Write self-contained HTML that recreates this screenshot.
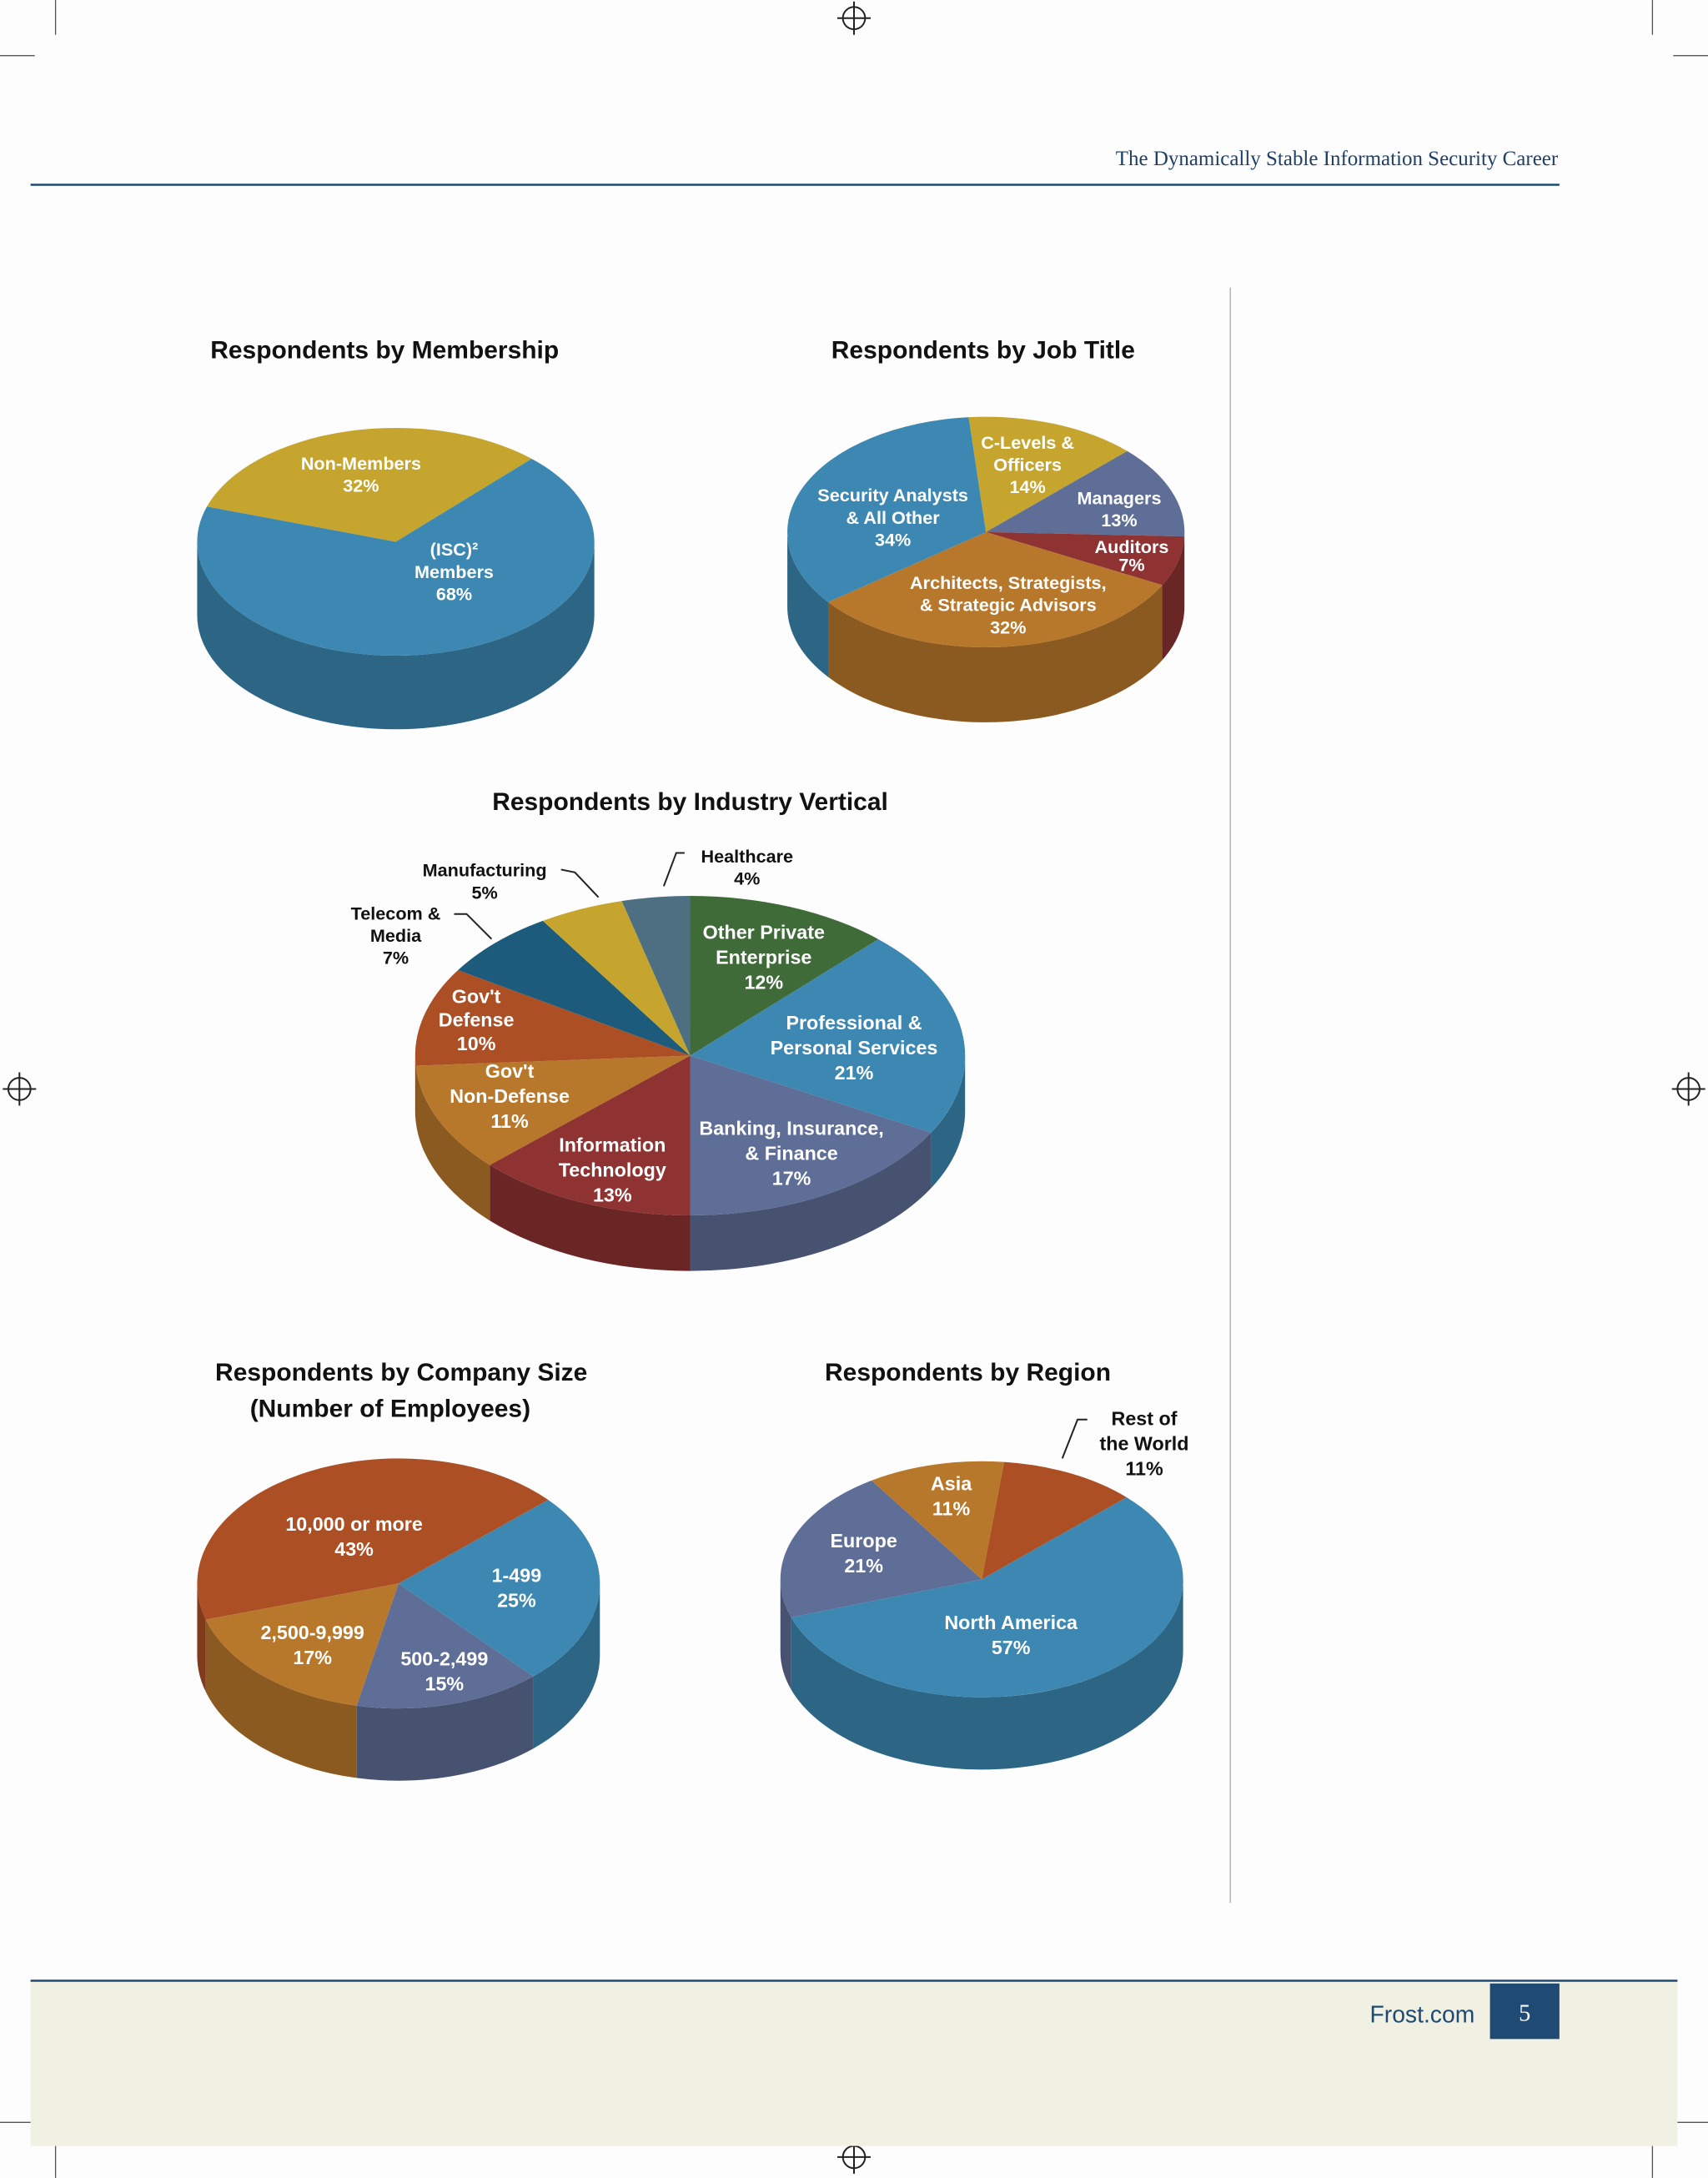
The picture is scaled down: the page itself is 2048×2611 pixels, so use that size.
<!DOCTYPE html>
<html><head><meta charset="utf-8">
<style>
html,body{margin:0;padding:0;background:#fdfdfd;}
svg{display:block;}
.t{font-family:"Liberation Sans",sans-serif;font-weight:bold;}
</style></head>
<body>
<svg id="s" width="2048" height="2611" viewBox="0 0 1230 1568" xmlns="http://www.w3.org/2000/svg">
<rect x="0" y="0" width="1230" height="1568" fill="#fdfdfd"/>
<g stroke="#555" stroke-width="0.8">
<line x1="40" y1="0" x2="40" y2="25"/><line x1="0" y1="40" x2="25" y2="40"/>
<line x1="1190" y1="0" x2="1190" y2="25"/><line x1="1205" y1="40" x2="1230" y2="40"/>
<line x1="40" y1="1543" x2="40" y2="1568"/><line x1="0" y1="1528" x2="25" y2="1528"/>
<line x1="1190" y1="1543" x2="1190" y2="1568"/><line x1="1205" y1="1528" x2="1230" y2="1528"/>
</g>
<g fill="none" stroke="#222" stroke-width="1.2">
<circle cx="615" cy="13" r="8"/><line x1="603" y1="13" x2="627" y2="13"/><line x1="615" y1="1" x2="615" y2="25"/>
<circle cx="615" cy="1553" r="8"/><line x1="603" y1="1553" x2="627" y2="1553"/><line x1="615" y1="1541" x2="615" y2="1565"/>
<circle cx="14" cy="784" r="8"/><line x1="2" y1="784" x2="26" y2="784"/><line x1="14" y1="772" x2="14" y2="796"/>
<circle cx="1216" cy="784" r="8"/><line x1="1204" y1="784" x2="1228" y2="784"/><line x1="1216" y1="772" x2="1216" y2="796"/>
</g>
<text x="1122" y="119" text-anchor="end" font-family="Liberation Serif,serif" font-size="15" fill="#1e3f66">The Dynamically Stable Information Security Career</text>
<line x1="22" y1="133" x2="1123" y2="133" stroke="#1e4a73" stroke-width="1.5"/>
<line x1="886" y1="207" x2="886" y2="1370" stroke="#bbb" stroke-width="1"/>
<rect x="22" y="1426" width="1186" height="119" fill="#f0f0e3"/>
<line x1="22" y1="1426" x2="1208" y2="1426" stroke="#1e4a73" stroke-width="1.5"/>
<text x="1062" y="1456" text-anchor="end" font-family="Liberation Sans,sans-serif" font-size="17" fill="#1e4a73">Frost.com</text>
<rect x="1073" y="1428" width="50" height="40" fill="#1e4a73"/>
<text x="1098" y="1455" text-anchor="middle" font-family="Liberation Serif,serif" font-size="17" fill="#fff">5</text>
<g id="charts"></g>
</svg>
<script>
// Membership
const memCats=["Non-Members","(ISC)² Members"];
const memVals=[32,68];
// Job title
const jobCats=["C-Levels & Officers","Managers","Auditors","Architects, Strategists, & Strategic Advisors","Security Analysts & All Other"];
const jobVals=[14,13,7,32,34];
// Industry
const indCats=["Other Private Enterprise","Professional & Personal Services","Banking, Insurance, & Finance","Information Technology","Gov't Non-Defense","Gov't Defense","Telecom & Media","Manufacturing","Healthcare"];
const indVals=[12,21,17,13,11,10,7,5,4];
// Company size
const sizeCats=["1-499","500-2,499","2,500-9,999","10,000 or more"];
const sizeVals=[25,15,17,43];
// Region
const regCats=["North America","Europe","Asia","Rest of the World"];
const regVals=[57,21,11,11];

const NS="http://www.w3.org/2000/svg";
const root=document.getElementById('charts');
function el(tag,attrs,parent){const e=document.createElementNS(NS,tag);for(const k in attrs)e.setAttribute(k,attrs[k]);(parent||root).appendChild(e);return e;}
function dark(c,f){const n=parseInt(c.slice(1),16);const r=(n>>16)*f|0,g=((n>>8)&255)*f|0,b=(n&255)*f|0;return `rgb(${r},${g},${b})`;}
function pt(p,a,dy){return [p.cx+p.rx*Math.cos(a),p.cy+p.ry*Math.sin(a)+(dy||0)];}
function pie(name,p,vals,colors,start,labels){
  const g=el('g',{});
  
  
  const tot=vals.reduce((a,b)=>a+b,0);
  let a=start*Math.PI/180;const angs=[];
  vals.forEach(v=>{const a2=a+v/tot*2*Math.PI;angs.push([a,a2]);a=a2;});
  // sides
  angs.forEach(([a1,a2],i)=>{
    for(let k=-1;k<=1;k++){
      const lo=Math.max(a1,k*2*Math.PI),hi=Math.min(a2,k*2*Math.PI+Math.PI);
      if(hi>lo){
        const s=pt(p,lo),e=pt(p,hi),sb=pt(p,lo,p.d),eb=pt(p,hi,p.d);
        const side=el('path',{d:`M${s}A${p.rx},${p.ry} 0 0 1 ${e}L${eb}A${p.rx},${p.ry} 0 0 0 ${sb}Z`,fill:dark(colors[i],0.75)},g);
        
        
      }
    }
  });
  // tops
  angs.forEach(([a1,a2],i)=>{
    const s=pt(p,a1),e=pt(p,a2),large=(a2-a1)>Math.PI?1:0;
    const top=el('path',{d:`M${p.cx},${p.cy}L${s}A${p.rx},${p.ry} 0 ${large} 1 ${e}Z`,fill:colors[i]},g);
    
    
  });
  labels.forEach((L,i)=>{
    const lines=L.t.split('|');
    lines.push(vals[i]+'%');
    lines.forEach((ln,j)=>{
      const t=el('text',{x:L.x,y:L.y+j*(L.lh||16),'text-anchor':'middle','font-size':L.fs||13,fill:L.c||'#fff',class:'t'},g);
      t.textContent=ln;
      
      
    });
  });
  return g;
}
function title(txt,x,y){const t=el('text',{x:x,y:y,'text-anchor':'middle','font-size':18,fill:'#111',class:'t'});t.textContent=txt;

}
const BL='#3d88b2',GD='#c5a52d',SL='#5f6e97',DR='#8e3232',OR='#b8782c',RU='#ad4f24',GR='#3e6b38',NV='#1c5b7b',HC='#4e6f82';

title('Respondents by Membership',277,258);
pie('membership-pie',{cx:285,cy:390,rx:143,ry:82,d:53},memVals,[GD,BL],-162,[
 {t:'Non-Members',x:260,y:338},{t:'(ISC)²|Members',x:327,y:400}]);

title('Respondents by Job Title',708,258);
pie('job-title-pie',{cx:710,cy:383,rx:143,ry:83,d:54},jobVals,[GD,SL,DR,OR,BL],-95,[
 {t:'C-Levels &|Officers',x:740,y:323},{t:'Managers',x:806,y:363},{t:'Auditors',x:815,y:398,lh:13},
 {t:'Architects, Strategists,|& Strategic Advisors',x:726,y:424},{t:'Security Analysts|& All Other',x:643,y:361}]);

title('Respondents by Industry Vertical',497,583);
pie('industry-pie',{cx:497,cy:760,rx:198,ry:115,d:40},indVals,[GR,BL,SL,DR,OR,RU,NV,GD,HC],-90,[
 {t:'Other Private|Enterprise',x:550,y:676,fs:14,lh:18},{t:'Professional &|Personal Services',x:615,y:741,fs:14,lh:18},
 {t:'Banking, Insurance,|& Finance',x:570,y:817,fs:14,lh:18},{t:'Information|Technology',x:441,y:829,fs:14,lh:18},
 {t:"Gov't|Non-Defense",x:367,y:776,fs:14,lh:18},{t:"Gov't|Defense",x:343,y:722,fs:14,lh:17},
 {t:'Telecom &|Media',x:285,y:662,c:'#111'},{t:'Manufacturing',x:349,y:631,c:'#111'},{t:'Healthcare',x:538,y:621,c:'#111'}]);
el('path',{d:'M404,626 L414,628 L431,646',fill:'none',stroke:'#222','stroke-width':1.2});
el('path',{d:'M327,658 L336,658 L354,676',fill:'none',stroke:'#222','stroke-width':1.2});
el('path',{d:'M493,614 L487,614 L478,638',fill:'none',stroke:'#222','stroke-width':1.2});

title('Respondents by Company Size',289,994);
title('(Number of Employees)',281,1020);
pie('company-size-pie',{cx:287,cy:1140,rx:145,ry:90,d:52},sizeVals,[BL,SL,OR,RU],-42,[
 {t:'1-499',x:372,y:1139,fs:14,lh:18},{t:'500-2,499',x:320,y:1199,fs:14,lh:18},
 {t:'2,500-9,999',x:225,y:1180,fs:14,lh:18},{t:'10,000 or more',x:255,y:1102,fs:14,lh:18}]);

title('Respondents by Region',697,994);
pie('region-pie',{cx:707,cy:1137,rx:145,ry:85,d:52},regVals,[BL,SL,OR,RU],-44,[
 {t:'North America',x:728,y:1173,fs:14,lh:18},{t:'Europe',x:622,y:1114,fs:14,lh:18},
 {t:'Asia',x:685,y:1073,fs:14,lh:18},{t:'Rest of|the World',x:824,y:1026,fs:14,lh:18,c:'#111'}]);
el('path',{d:'M783,1022 L776,1022 L765,1050',fill:'none',stroke:'#222','stroke-width':1.2});
</script>
</body></html>
